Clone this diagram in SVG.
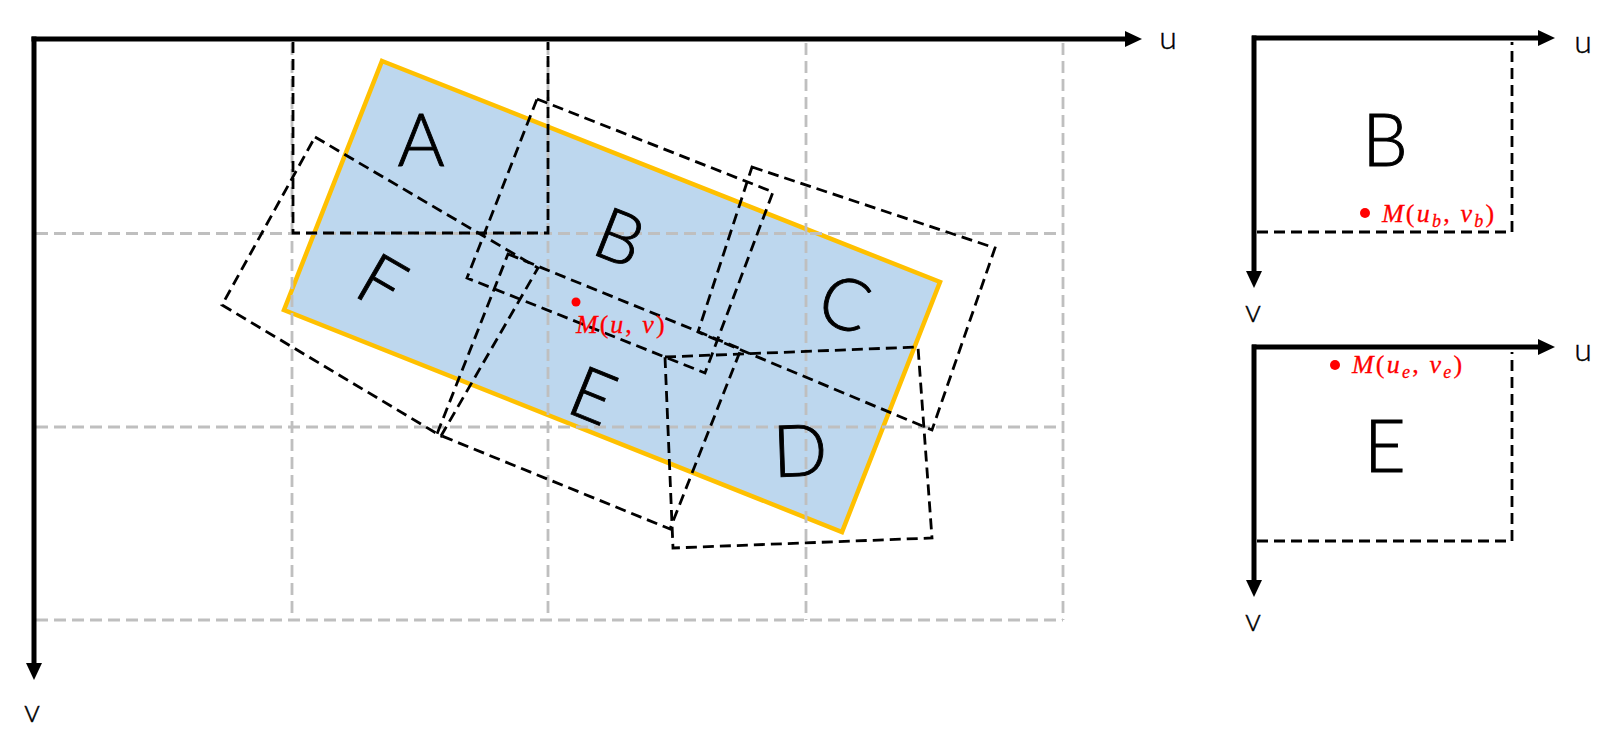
<svg xmlns="http://www.w3.org/2000/svg" width="1616" height="755" viewBox="0 0 1616 755">
<defs>
<marker id="arr" markerUnits="userSpaceOnUse" viewBox="0 0 17 16" markerWidth="17" markerHeight="16" refX="7" refY="8" orient="auto"><path d="M0,0 L17,8 L0,16 z" fill="#000"/></marker>
</defs>
<style>
.grid{stroke:#BFBFBF;stroke-width:2.8;stroke-dasharray:12 6;fill:none}
.cell{stroke:#000;stroke-width:2.8;stroke-dasharray:11 6;fill:none}
.axis{stroke:#000;stroke-width:5;fill:none}
.big{font-family:Lato,"Open Sans",sans-serif;font-weight:300;font-size:72px;fill:#000;stroke:#000;stroke-width:0.9;text-anchor:middle}
.ax{font-family:Lato,"Open Sans",sans-serif;font-weight:300;font-size:32px;fill:#000;stroke:#000;stroke-width:0.4;text-anchor:middle}
.m{font-family:"Liberation Serif",serif;font-size:26px;fill:#FF0000;stroke:#FF0000;stroke-width:0.3}
.i{font-style:italic}
</style>
<rect width="1616" height="755" fill="#fff"/>
<g id="region">
<polygon points="382,61 940,282 842,532 284,310" fill="#BDD7EE" stroke="#FFC000" stroke-width="4.5"/>
</g>
<g id="grid" class="grid">
<line x1="36" y1="233.5" x2="1063" y2="233.5"/>
<line x1="36" y1="427" x2="1063" y2="427"/>
<line x1="36" y1="620" x2="1063" y2="620"/>
<line x1="292" y1="43" x2="292" y2="620"/>
<line x1="548" y1="43" x2="548" y2="620"/>
<line x1="806" y1="43" x2="806" y2="620"/>
<line x1="1063" y1="43" x2="1063" y2="620"/>
</g>
<g id="cells" class="cell">
<polyline id="cellA" points="293,42 293,233 548,233 548,42"/>
<polygon id="cellF" points="315,137 538,268 441,436 222,305"/>
<polygon id="cellB" points="537,99 773,192 705,373 467,278"/>
<polygon id="cellC" points="752,167 995,248 932,430 698,332"/>
<polygon id="cellE" points="508,254 741,349 670,529 437,434"/>
<polygon id="cellD" points="665,357 918,347 932,538 673,548"/>
</g>
<g id="letters" class="big">
<text id="labelA" x="421" y="166">A</text>
<text id="labelB" x="620" y="263" transform="rotate(21.5 620 237)">B</text>
<text id="labelF" x="382" y="308" transform="rotate(30 382 282)">F</text>
<text id="labelC" x="845" y="329" transform="rotate(18 845 303)">C</text>
<text id="labelE" x="593" y="421" transform="rotate(22 593 395)">E</text>
<text id="labelD" x="800" y="476" transform="rotate(-2 800 450)">D</text>
</g>
<g id="pointM">
<circle cx="576" cy="302" r="4.5" fill="#FF0000"/>
<text class="m" x="576" y="333" letter-spacing="2"><tspan class="i">M</tspan>(<tspan class="i">u</tspan>, <tspan class="i">v</tspan>)</text>
</g>
<g id="connectors" class="axis">
<line x1="31.5" y1="39" x2="1132" y2="39" marker-end="url(#arr)"/>
<line x1="34" y1="36.5" x2="34" y2="670" marker-end="url(#arr)"/>
<line x1="1252" y1="38" x2="1545" y2="38" marker-end="url(#arr)"/>
<line x1="1254" y1="35.5" x2="1254" y2="278" marker-end="url(#arr)"/>
<line x1="1252" y1="347" x2="1545" y2="347" marker-end="url(#arr)"/>
<line x1="1254" y1="344.5" x2="1254" y2="587" marker-end="url(#arr)"/>
</g>
<g id="axisLabels" class="ax">
<text x="1168" y="49">u</text>
<text x="32" y="722">v</text>
<text x="1583" y="53">u</text>
<text x="1253" y="322">v</text>
<text x="1583" y="361">u</text>
<text x="1253" y="631">v</text>
</g>
<g id="insetB">
<polyline class="cell" points="1257,232 1512,232 1512,42"/>
<text class="big" x="1385" y="166">B</text>
<circle cx="1365" cy="213" r="5" fill="#FF0000"/>
<text class="m" x="1382" y="222" letter-spacing="2.2"><tspan class="i">M</tspan>(<tspan class="i">u</tspan><tspan class="i" font-size="18" dy="5">b</tspan><tspan dy="-5">, </tspan><tspan class="i">v</tspan><tspan class="i" font-size="18" dy="5">b</tspan><tspan dy="-5">)</tspan></text>
</g>
<g id="insetE">
<polyline class="cell" points="1257,541 1512,541 1512,352"/>
<text class="big" x="1385" y="472">E</text>
<circle cx="1335" cy="365" r="5" fill="#FF0000"/>
<text class="m" x="1352" y="373" letter-spacing="2.2"><tspan class="i">M</tspan>(<tspan class="i">u</tspan><tspan class="i" font-size="18" dy="5">e</tspan><tspan dy="-5">, </tspan><tspan class="i">v</tspan><tspan class="i" font-size="18" dy="5">e</tspan><tspan dy="-5">)</tspan></text>
</g>
</svg>
